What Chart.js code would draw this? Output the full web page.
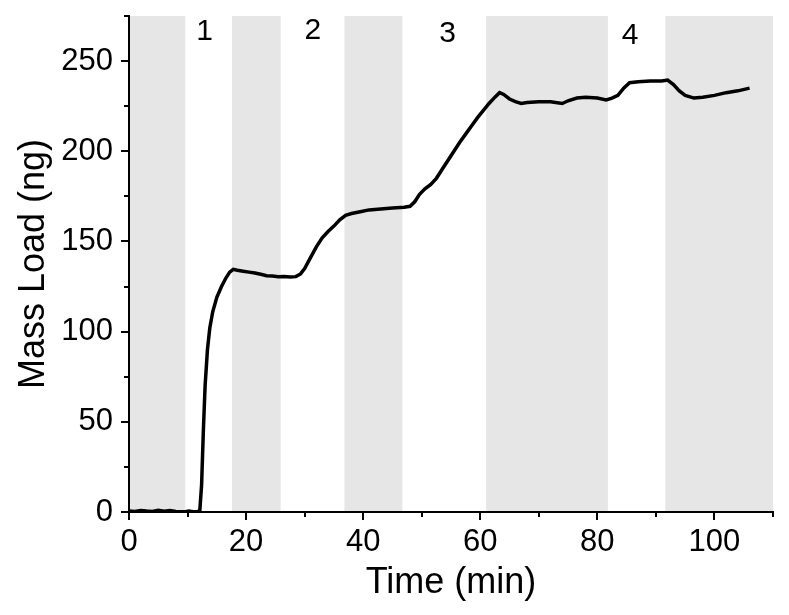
<!DOCTYPE html>
<html>
<head>
<meta charset="utf-8">
<script src="https://cdn.jsdelivr.net/npm/chart.js@4/dist/chart.umd.min.js"></script>
<style>
html,body{margin:0;padding:0;background:#fff;}
canvas{display:block;}
</style>
</head>
<body>
<canvas id="c" width="789" height="615"></canvas>
<script>
// ---- data ----
const timeMin = [0,1,2,3,4,5,6,7,8,9,9.6,10.2,11,11.8,12.1,12.4,12.7,13.0,13.4,13.8,14.3,15,15.8,16.6,17.2,17.8,18.5,19.5,20.5,21.5,22.5,23.5,24.5,25.5,26.5,27.5,28.5,29.3,30,31,32,33,34,35,36,37,38,39.5,41,43,45,47,48,48.8,49.6,50.5,51.5,52.5,53.5,54.5,55.5,56.5,57.5,58.5,59.5,60.5,61.5,62.5,63.3,64,65,66,67,68,70,72,74,75,76.5,78,80,81.5,82.5,83.5,84.5,85.5,87,89,91,92,93,94,95,96.5,98,100,102,104,106];
const massNg  = [0.5,0.3,0.8,0.5,0.3,0.9,0.4,0.8,0.3,0.1,0.2,0.5,0.2,0.3,1,15,45,70,90,102,111,119,125,130,133,134.5,134,133.5,133,132.5,131.8,131,130.8,130.5,130.6,130.3,130.5,132,135,141,147,152,155.5,158.5,162,164.5,165.5,166.5,167.5,168,168.5,169,169.5,172,176,179,181.5,185,190,195,200,205,209.5,214,218.5,222.5,226.5,230,232.5,231.5,229,227.5,226.5,227,227.5,227.5,226.5,228,229.5,230,229.5,228.5,229.5,231,235,238,238.5,239,239,239.5,237,233.5,231,229.5,230,231,232.5,233.5,235];

const bandStart = [0, 17.6, 36.8, 61.0, 91.6];
const bandEnd   = [9.6, 25.9, 46.7, 81.8, 110];

const phaseLabels = ['1','2','3','4'];
const phaseX = [12.9, 31.4, 54.4, 85.6];
const phaseY = [266.4, 266.7, 265.3, 264.2];

const xMin = 0, xMax = 110, xStep = 10, xLabelEvery = 20;
const yMin = 0, yMax = 275, yStep = 25, yLabelEvery = 50;

// ---- chart ----
const FONT = '"Liberation Sans", Arial, sans-serif';
const points = timeMin.map((t, i) => ({x: t, y: massNg[i]}));

const decor = {
  id: 'decor',
  beforeDraw(chart) {
    const {ctx, scales: {x, y}} = chart;
    ctx.save();
    ctx.fillStyle = '#e6e6e6';
    const yTop = y.getPixelForValue(yMax), yBot = y.getPixelForValue(yMin);
    for (let i = 0; i < bandStart.length; i++) {
      const x1 = x.getPixelForValue(bandStart[i]);
      const x2 = x.getPixelForValue(bandEnd[i]);
      ctx.fillRect(x1, yTop, x2 - x1, yBot - yTop);
    }
    ctx.restore();
  },
  afterDraw(chart) {
    const {ctx, scales: {x, y}} = chart;
    ctx.save();
    ctx.strokeStyle = '#000';
    ctx.lineWidth = 2;
    const axY = y.getPixelForValue(yMin);
    const axX = x.getPixelForValue(xMin);
    ctx.beginPath();
    for (let v = xMin; v <= xMax + 1e-9; v += xStep) {
      const px = Math.round(x.getPixelForValue(v));
      const len = (v % xLabelEvery === 0) ? 8 : 5;
      ctx.moveTo(px, axY); ctx.lineTo(px, axY + len);
    }
    for (let v = yMin; v <= yMax + 1e-9; v += yStep) {
      const py = Math.round(y.getPixelForValue(v));
      const len = (v % yLabelEvery === 0) ? 8 : 5;
      ctx.moveTo(axX, py); ctx.lineTo(axX - len, py);
    }
    ctx.stroke();
    // phase labels
    ctx.fillStyle = '#000';
    ctx.font = '30px ' + FONT;
    ctx.textAlign = 'center';
    ctx.textBaseline = 'middle';
    phaseLabels.forEach((lab, i) => {
      ctx.fillText(lab, x.getPixelForValue(phaseX[i]), y.getPixelForValue(phaseY[i]));
    });
    ctx.restore();
  }
};

new Chart(document.getElementById('c'), {
  type: 'line',
  data: {
    datasets: [{
      data: points,
      borderColor: '#000',
      borderWidth: 3.5,
      pointRadius: 0,
      tension: 0,
      fill: false
    }]
  },
  options: {
    responsive: false,
    animation: false,
    devicePixelRatio: 1,
    layout: {padding: {top: 16, right: 16, left: 0, bottom: 0}},
    plugins: {legend: {display: false}, tooltip: {enabled: false}},
    scales: {
      x: {
        type: 'linear', min: xMin, max: xMax,
        ticks: {
          stepSize: xStep, autoSkip: false, maxRotation: 0,
          callback: v => (v % xLabelEvery === 0 ? String(v) : null),
          color: '#000', font: {family: FONT, size: 31}, padding: 4
        },
        grid: {drawOnChartArea: false, color: 'rgba(0,0,0,0)', tickLength: 8},
        border: {color: '#000', width: 2},
        title: {display: true, text: 'Time (min)', color: '#000', font: {family: FONT, size: 36}, padding: {top: 0, bottom: 10}},
        afterFit: s => { s.height = 103; s.paddingLeft = 0; s.paddingRight = 0; }
      },
      y: {
        type: 'linear', min: yMin, max: yMax,
        ticks: {
          stepSize: yStep, autoSkip: false,
          callback: v => (v % yLabelEvery === 0 ? String(v) : null),
          color: '#000', font: {family: FONT, size: 31}, padding: 8
        },
        grid: {drawOnChartArea: false, color: 'rgba(0,0,0,0)', tickLength: 8},
        border: {color: '#000', width: 2},
        title: {display: true, text: 'Mass Load (ng)', color: '#000', font: {family: FONT, size: 36}, padding: {top: 12, bottom: 0}},
        afterFit: s => { s.width = 129; s.paddingTop = 0; s.paddingBottom = 0; }
      }
    }
  },
  plugins: [decor]
});
</script>
</body>
</html>
